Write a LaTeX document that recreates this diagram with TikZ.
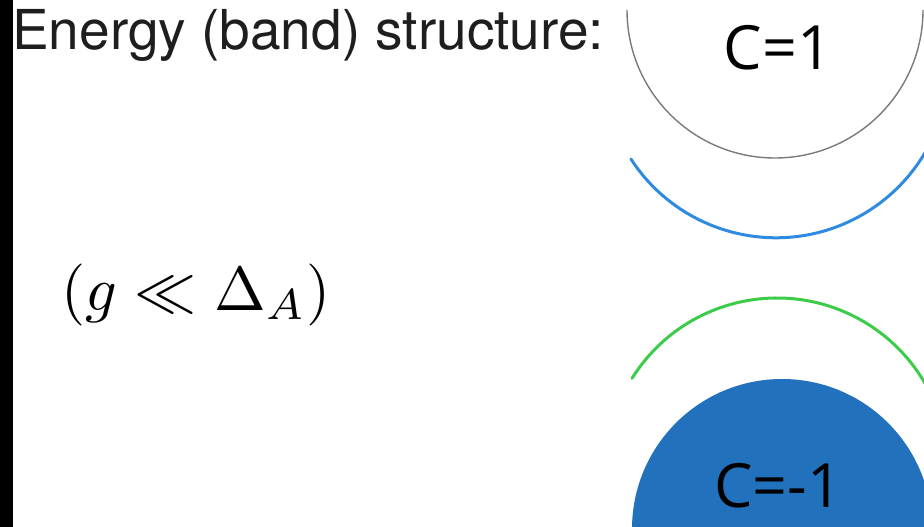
\documentclass[tikz,border=0pt]{standalone}
\usepackage{fontspec}
\setmainfont{TeX Gyre Heros}
\newfontfamily\labelfont{Open Sans}
\definecolor{stripblack}{HTML}{000000}
\definecolor{bandgray}{HTML}{7A7A7A}
\definecolor{bandblue}{HTML}{2E8BE0}
\definecolor{bandgreen}{HTML}{3DCB4A}
\definecolor{fillblue}{HTML}{2171BD}
\definecolor{textdark}{HTML}{1E1E1E}
\tikzset{
  titletext/.style={font=\fontsize{55}{60}\selectfont, text=textdark, inner sep=0pt, anchor=base west},
  mathtext/.style={font=\fontsize{10}{12}\selectfont, inner sep=0pt, scale=6.2},
  chern/.style={font=\labelfont\fontsize{61}{70}\selectfont, text=black, inner sep=0pt, anchor=base},
  grayband/.style={draw=bandgray, line width=1.4pt},
  blueband/.style={draw=bandblue, line width=3pt, line cap=round},
  greenband/.style={draw=bandgreen, line width=3pt, line cap=round},
}
\begin{document}
\begin{tikzpicture}[x=1pt,y=1pt]
\useasboundingbox (0,0) rectangle (924,527);
\begin{scope}
\clip (0,0) rectangle (924,527);
\fill[white] (0,0) rectangle (924,527);
\fill[stripblack] (0,0) rectangle (13,527);
% bands
\draw[grayband] (627,517) arc[start angle=180, end angle=360, radius=148];
\draw[blueband] (630.9,368.0) arc[start angle=213, end angle=335, radius=173];
\draw[greenband] (632.0,148.6) arc[start angle=148, end angle=25, radius=171];
\fill[fillblue] (782,-2) circle[radius=150];
\end{scope}
\node[titletext] (title) at (12,477) {Energy (band) structure:};
\node[mathtext] (cond) at (196,232) {$(g \ll \Delta_A)$};
\node[chern] (cplus) at (778,457) {C=1};
\node[chern] (cminus) at (778,19) {C=-1};
\end{tikzpicture}
\end{document}
